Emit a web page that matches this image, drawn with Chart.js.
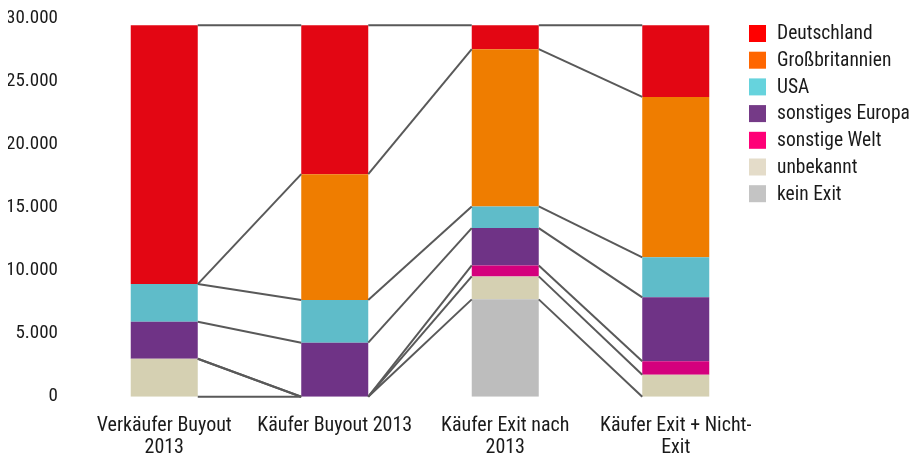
<!DOCTYPE html>
<html>
<head>
<meta charset="utf-8">
<script src="https://cdn.jsdelivr.net/npm/chart.js@4"></script>
<style>
  html, body { margin: 0; padding: 0; background: #fff; }
  #wrap { width: 920px; height: 457px; position: relative; }
</style>
</head>
<body>
<div id="wrap"><canvas id="chart"></canvas></div>
<script>
// ---------- Data ----------
const categories = [
    ['Verkäufer Buyout', '2013'],
    'Käufer Buyout 2013',
    ['Käufer Exit nach', '2013'],
    ['Käufer Exit + Nicht-', 'Exit']
];
const yTicks = [0, 5000, 10000, 15000, 20000, 25000, 30000];

const deutschland     = [20510, 11800, 1900, 5680];
const grossbritannien = [0, 9970, 12460, 12710];
const usa             = [2980, 3380, 1710, 3170];
const sonstEuropa     = [2930, 4280, 2960, 5070];
const sonstWelt       = [0, 0, 870, 1060];
const unbekannt       = [3010, 0, 1820, 1740];
const keinExit        = [0, 0, 7710, 0];

// legend order (top to bottom)
const series = [
    { label: 'Deutschland', data: deutschland },
    { label: 'Großbritannien', data: grossbritannien },
    { label: 'USA', data: usa },
    { label: 'sonstiges Europa', data: sonstEuropa },
    { label: 'sonstige Welt', data: sonstWelt },
    { label: 'unbekannt', data: unbekannt },
    { label: 'kein Exit', data: keinExit }
];

// ---------- Styles ----------
const barColors = ['#e30613', '#ef7d00', '#5fbcc9', '#6f3386', '#d4007d', '#d5d0b2', '#bdbdbd'];
const legendColors = ['#ff0000', '#ff6600', '#66d3dd', '#753a87', '#ff0077', '#e4dcc9', '#c4c4c4'];
const fontFamily = 'Roboto, sans-serif';
const textColor = '#1a1a1a';
const lineColor = '#595959';

function fmtThousands(v) {
    return String(v).replace(/\B(?=(\d{3})+(?!\d))/g, '.');
}

// Series lines between neighbouring bars (tops of each segment)
const seriesLinesPlugin = {
    id: 'seriesLines',
    afterDatasetsDraw(chart) {
        const { ctx } = chart;
        ctx.save();
        ctx.strokeStyle = lineColor;
        ctx.lineWidth = 2;
        chart.data.datasets.forEach((ds, di) => {
            const meta = chart.getDatasetMeta(di);
            for (let i = 0; i < meta.data.length - 1; i++) {
                const a = meta.data[i], b = meta.data[i + 1];
                ctx.beginPath();
                ctx.moveTo(a.x + a.width / 2, a.y);
                ctx.lineTo(b.x - b.width / 2, b.y);
                ctx.stroke();
            }
        });
        ctx.restore();
    }
};

// Legend drawn over the right side
const sideLegendPlugin = {
    id: 'sideLegend',
    afterDraw(chart) {
        const { ctx } = chart;
        const x0 = 749, y0 = 25, box = 17, step = 26.7;
        ctx.save();
        ctx.font = 'condensed 19.5px ' + fontFamily;
        ctx.textBaseline = 'middle';
        ctx.textAlign = 'left';
        series.forEach((s, i) => {
            const y = y0 + i * step;
            ctx.fillStyle = legendColors[i];
            ctx.fillRect(x0, y, box, box);
            ctx.fillStyle = textColor;
            ctx.fillText(s.label, x0 + 28, y + box / 2 + 1);
        });
        ctx.restore();
    }
};

// stack from bottom: kein Exit ... Deutschland
const datasets = series.map((s, i) => ({
    label: s.label,
    data: s.data,
    backgroundColor: barColors[i],
    borderWidth: 0
})).reverse();

new Chart(document.getElementById('chart'), {
    type: 'bar',
    data: { labels: categories, datasets },
    options: {
        responsive: true,
        maintainAspectRatio: false,
        animation: false,
        layout: { padding: { left: 8, right: 159, top: 18, bottom: 0 } },
        categoryPercentage: 1,
        barPercentage: 0.393,
        plugins: {
            legend: { display: false },
            tooltip: { enabled: false }
        },
        scales: {
            x: {
                stacked: true,
                afterFit: scale => { scale.height = 60.3; },
                grid: { display: false, drawTicks: false },
                border: { display: false },
                ticks: {
                    color: textColor,
                    padding: 17.5,
                    maxRotation: 0,
                    autoSkip: false,
                    font: { family: fontFamily, weight: 'condensed', size: 20, lineHeight: 1.13 }
                }
            },
            y: {
                stacked: true,
                min: 0,
                max: 30000,
                afterBuildTicks: scale => { scale.ticks = yTicks.map(v => ({ value: v })); },
                afterFit: scale => {
                    scale.width = 71;
                    scale.paddingTop = 0;
                    scale.paddingBottom = 0;
                },
                grid: { display: false, drawTicks: false },
                border: { display: false },
                ticks: {
                    color: textColor,
                    padding: 21,
                    font: { family: fontFamily, weight: 'condensed', size: 19 },
                    callback: v => fmtThousands(v)
                }
            }
        }
    },
    plugins: [seriesLinesPlugin, sideLegendPlugin]
});
</script>
</body>
</html>
